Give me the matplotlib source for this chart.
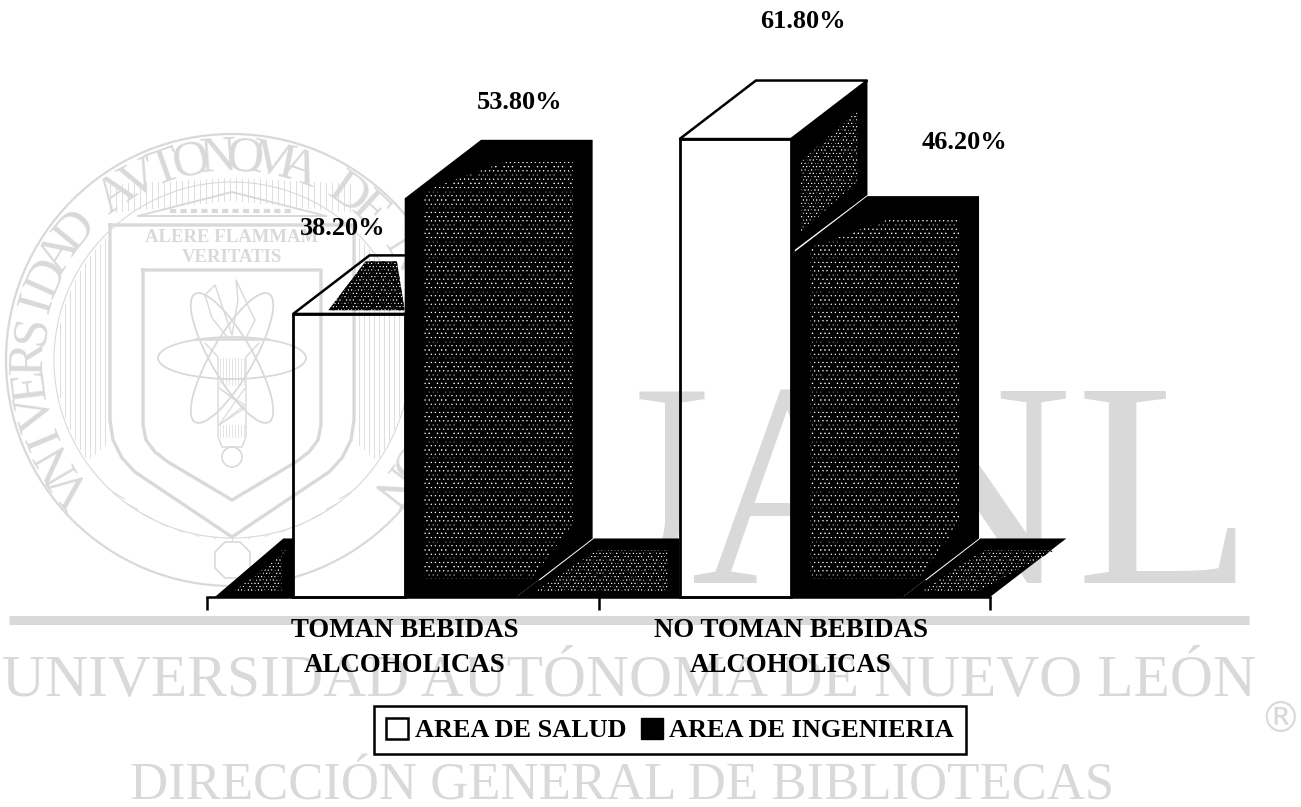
import numpy as np
import matplotlib
matplotlib.use('Agg')
import matplotlib.pyplot as plt
from matplotlib.patches import Patch, Polygon, Circle, Ellipse

# chart data
categories = ['TOMAN BEBIDAS\nALCOHOLICAS', 'NO TOMAN BEBIDAS\nALCOHOLICAS']
salud = [38.2, 61.8]
ingenieria = [53.8, 46.2]
salud_labels = ['38.20%', '61.80%']
ingenieria_labels = ['53.80%', '46.20%']
legend_names = ['AREA DE SALUD', 'AREA DE INGENIERIA']

W, H = 1301, 807
GREY = '#d9d9d9'
SERIF = 'Liberation Serif'
plt.rcParams['font.family'] = SERIF
plt.rcParams['hatch.linewidth'] = 0.5

fig = plt.figure(figsize=(W / 100, H / 100), dpi=100, facecolor='white')

# watermark, in pixel coordinates
wm = fig.add_axes([0, 0, 1, 1], zorder=0)
wm.set_xlim(0, W)
wm.set_ylim(H, 0)
wm.axis('off')

wm.plot([9, 1249], [619.5, 619.5], color=GREY, lw=6.5, solid_capstyle='butt')
wm.text(629, 696, 'UNIVERSIDAD AUTÓNOMA DE NUEVO LEÓN', color=GREY, fontsize=42.8, ha='center', va='baseline')
wm.text(622, 799, 'DIRECCIÓN GENERAL DE BIBLIOTECAS', color=GREY, fontsize=38, ha='center', va='baseline')
wm.text(1280, 720, '®', color=GREY, fontsize=30, ha='center', va='center', family='DejaVu Sans')
for letter, x in zip('UANL', [605, 795, 967, 1165]):
  wm.text(x, 583, letter, color=GREY, fontsize=210, ha='center', va='baseline')

# seal
cx, cy = 232, 360
wm.add_patch(Circle((cx, cy), 226, fill=False, ec=GREY, lw=1.6))
ring = 'VNIVERSIDAD AVTONOMA DE NVEVO LEON'
for i, ch in enumerate(ring):
  ang = np.radians(218 - 256 * i / (len(ring) - 1))
  wm.text(cx + 202 * np.cos(ang), cy - 202 * np.sin(ang), ch, color=GREY, fontsize=37,
          ha='center', va='center', rotation=np.degrees(ang) - 90, rotation_mode='anchor')
wm.add_patch(Circle((cx, cy), 178, fill=False, ec=GREY, lw=0.8))

# hatching between ring and shield
for x in np.arange(60, 110, 5):
  half = np.sqrt(176 ** 2 - (x - cx) ** 2)
  wm.plot([x, x], [cy - half, min(cy + half, 440 + (110 - x) * 0.9)], color=GREY, lw=0.6)
  wm.plot([2 * cx - x, 2 * cx - x], [cy - half, min(cy + half, 440 + (110 - x) * 0.9)], color=GREY, lw=0.6)
for x in np.arange(110, 355, 6):
  wm.plot([x, x], [178 + abs(x - cx) * 0.05, 200 + abs(x - cx) * 0.1], color=GREY, lw=0.6)
for a in np.arange(228, 316, 6):
  r = np.radians(a)
  wm.plot([cx + 160 * np.cos(r), cx + 178 * np.cos(r)], [cy - 160 * np.sin(r) + 20, cy - 178 * np.sin(r)], color=GREY, lw=0.7)

# shield outlines
outer_x = [110, 110, 113, 122, 135, 232, 329, 342, 351, 354, 354, 110]
outer_y = [225, 420, 440, 458, 472, 537, 472, 458, 440, 420, 225, 225]
inner_x = [143, 143, 146, 155, 168, 232, 296, 309, 318, 321, 321, 143]
inner_y = [270, 425, 440, 452, 462, 500, 462, 452, 440, 425, 270, 270]
wm.plot(outer_x, outer_y, color=GREY, lw=2.4)
wm.plot(inner_x, inner_y, color=GREY, lw=2.4)

# temple front
wm.plot([138, 232, 326], [216, 192, 216], color=GREY, lw=1.4)
wm.plot([138, 326], [216, 216], color=GREY, lw=1.4)
wm.plot([170, 294], [211, 211], color=GREY, lw=3, ls=(0, (1.5, 1)))
wm.text(cx, 237, 'ALERE FLAMMAM', color=GREY, fontsize=13.5, ha='center', va='center', fontweight='bold')
wm.text(cx, 258, 'VERITATIS', color=GREY, fontsize=13.5, ha='center', va='center', fontweight='bold')

# atom and torch
for angle in [0, 60, -60]:
  wm.add_patch(Ellipse((cx, 358), 148, 42, angle=angle, fill=False, ec=GREY, lw=1.3))
wm.plot([196, 268], [339, 339], color=GREY, lw=1.8)
wm.plot([205, 218, 218, 222, 242, 246, 246, 259], [343, 357, 437, 447, 447, 437, 357, 343], color=GREY, lw=1)
for x in range(220, 246, 3):
  wm.plot([x, x], [358, 385], color=GREY, lw=0.5)
  wm.plot([x, x], [425, 437], color=GREY, lw=0.5)
wm.plot([219, 245, 219, 245], [388, 408, 425, 388], color=GREY, lw=0.8)
wm.plot([219, 245, 219], [425, 405, 388], color=GREY, lw=0.8)
wm.plot([228, 212, 205, 215, 232, 238, 236, 250, 255, 246], [338, 318, 295, 285, 335, 300, 280, 310, 320, 338], color=GREY, lw=1)
wm.add_patch(Circle((cx, 457), 10, fill=False, ec=GREY, lw=1.2))
wm.add_patch(Polygon([(215, 552), (225, 542), (240, 542), (250, 552), (250, 568), (240, 578), (225, 578), (215, 568)], fill=False, ec=GREY, lw=1.2))

# chart axes: baseline at y=597, x axis from 207 to 990
ax = fig.add_axes([207 / W, 1 - 597 / H, 783 / W, 592.8 / H], zorder=1)
ax.patch.set_alpha(0)
ax.set_xlim(-0.5, 1.5)
ax.set_ylim(0, 80)
for s in ['top', 'left', 'right']:
  ax.spines[s].set_visible(False)
ax.spines['bottom'].set_linewidth(1.8)
ax.set_yticks([])

centers = [0.005, 0.992]
bw = 0.285  # bar width
dx, dy = 0.195, 7.9  # 3d depth


def dark_poly(points, zorder=2):  # solid black face
  ax.add_patch(Polygon(points, closed=True, fc='black', ec='black', lw=0, clip_on=False, zorder=zorder))


def speckle(points, zorder=2, dense=False):  # white dots broken up by black hatching, closer to the scan's noise
  layers = [('.....', '#ffffff', 0.5), ('xxx', 'black', 0.9)] if dense else [('....', '#ffffff', 0.5), ('xx', 'black', 1.3), ('---', 'black', 0.7)]
  for h, col, lw in layers:
    plt.rcParams['hatch.linewidth'] = lw
    ax.add_patch(Polygon(points, closed=True, fc='none', ec=col, hatch=h, lw=0, clip_on=False, zorder=zorder))
  plt.rcParams['hatch.linewidth'] = 0.5


# floor pieces that show between the bars
floor_l, floor_r = -0.5, 1.5
left = centers[0] - bw
mid_a, mid_b = centers[0] + bw, centers[1] - bw
right = centers[1] + bw
for pts in [
  [(floor_l + 0.02, 0), (floor_l + dx, dy), (left, dy), (left, 0)],
  [(mid_a, 0), (mid_a + dx, dy), (mid_b, dy), (mid_b, 0)],
  [(right, 0), (right + dx, dy), (floor_r + dx, dy), (floor_r, 0)],
]:
  dark_poly(pts)
  xs = [p[0] for p in pts]
  speckle([(xs[0] + 0.05, 0.8), (xs[1] + 0.01, dy - 1.6), (xs[2] - 0.03, dy - 1.6), (xs[3] - 0.03, 0.8)], dense=True)

# white slashes along the bar feet on the scan
for a in [mid_a, right]:
  ax.plot([a + 0.06, a + dx], [2.4, dy], color='white', lw=1.3, zorder=3, clip_on=False)

# white bars, transparent so the watermark stays visible like on the scan
ax.bar([c - bw / 2 for c in centers], salud, bw, facecolor='none', edgecolor='black', lw=2, zorder=3, clip_on=False)
for c, v in zip(centers, salud):
  ax.add_patch(Polygon([(c - bw, v), (c - bw + dx, v + dy), (c + dx, v + dy), (c, v)], closed=True, fc='none', ec='black', lw=1.8, zorder=3, clip_on=False))

# speckled patch on the low bar's top, side wall on the tall one
c, v = centers[0], salud[0]
tri = [(c - bw + 0.09, v + 0.5), (c - 0.1, v + dy - 0.8), (c - 0.02, v + dy - 0.8), (c, v + 0.5)]
dark_poly(tri, zorder=2)
speckle(tri, dense=True)
c, v = centers[1], salud[1]
dark_poly([(c, v), (c + dx, v + dy), (c + dx, ingenieria[1] + dy), (c, ingenieria[1])], zorder=2)
speckle([(c + 0.025, v - 3), (c + dx - 0.025, v + dy - 4), (c + dx - 0.025, ingenieria[1] + dy + 2), (c + 0.025, ingenieria[1] + 3)], dense=True)
ax.plot([c + 0.012, c + dx], [ingenieria[1] + 0.6, ingenieria[1] + dy], color='white', lw=1.3, zorder=3)

# dark bars
for c, v in zip(centers, ingenieria):
  ax.bar(c + bw / 2, v, bw, facecolor='black', edgecolor='black', lw=0, zorder=4, clip_on=False)
  dark_poly([(c, 0), (c, v), (c + dx, v + dy), (c + bw + dx, v + dy), (c + bw + dx, dy), (c + bw, 0)], zorder=4)
  speckle([(c + 0.05, 2.5), (c + 0.05, v + 1), (c + 0.06 + dx, v + dy - 3), (c + bw + dx - 0.05, v + dy - 3), (c + bw + dx - 0.05, dy + 2), (c + bw + 0.04, 2.5)], zorder=5)

# value labels
salud_off = [(-0.158, 11.5), (0.03, 15.8)]
ing_off = [(0.15, 13), (0.30, 15.2)]
for c, v, lab, off in zip(centers, salud, salud_labels, salud_off):
  ax.text(c + off[0], v + off[1], lab, fontsize=19, fontweight='bold', ha='center', va='center', zorder=6, clip_on=False)
for c, v, lab, off in zip(centers, ingenieria, ingenieria_labels, ing_off):
  ax.text(c + bw / 2 + off[0], v + off[1], lab, fontsize=19, fontweight='bold', ha='center', va='center', zorder=6, clip_on=False)

ax.set_xticks([-0.5, 0.5, 1.5], labels=['', '', ''])
ax.tick_params(axis='x', which='major', length=9, width=1.8, direction='out')
ax.set_xticks(centers, labels=categories, minor=True)
ax.tick_params(axis='x', which='minor', length=0, pad=15, labelsize=19.4)
for tl in ax.get_xticklabels(minor=True):
  tl.set_fontweight('bold')
  tl.set_linespacing(1.55)

handles = [Patch(fc='white', ec='black', lw=1.8), Patch(fc='black', ec='black')]
leg = fig.legend(handles, legend_names, loc='center', bbox_to_anchor=(670 / W, 1 - 730 / H), ncol=2, frameon=True, fancybox=False,
                 edgecolor='black', framealpha=1, prop={'family': SERIF, 'weight': 'bold', 'size': 18.9},
                 handlelength=0.85, handleheight=0.85, handletextpad=0.25, columnspacing=0.55, borderpad=0.45, borderaxespad=0)
leg.get_frame().set_linewidth(1.8)
leg.set_zorder(7)

fig.savefig('out.png', dpi=100)
